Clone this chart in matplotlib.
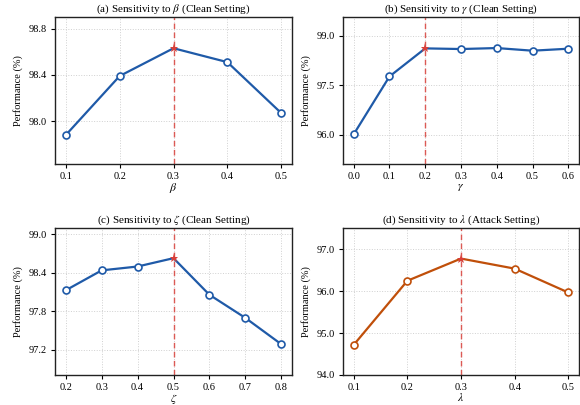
import matplotlib
matplotlib.use("Agg")
import matplotlib.pyplot as plt
from matplotlib.ticker import FormatStrFormatter

plt.rcParams["font.family"] = ["Liberation Serif", "DejaVu Serif"]
plt.rcParams["mathtext.fontset"] = "stix"
plt.rcParams["font.size"] = 7.5

# Sensitivity data
beta_vals = [0.1, 0.2, 0.3, 0.4, 0.5]
beta_perf = [97.88, 98.39, 98.63, 98.51, 98.07]

gamma_vals = [0.0, 0.1, 0.2, 0.3, 0.4, 0.5, 0.6]
gamma_perf = [96.02, 97.77, 98.62, 98.60, 98.63, 98.55, 98.61]

zeta_vals = [0.2, 0.3, 0.4, 0.5, 0.6, 0.7, 0.8]
zeta_perf = [98.13, 98.44, 98.50, 98.63, 98.06, 97.70, 97.29]

lambda_vals = [0.1, 0.2, 0.3, 0.4, 0.5]
lambda_perf = [94.72, 96.25, 96.78, 96.54, 95.97]

titles = [
    r"(a) Sensitivity to $\beta$ (Clean Setting)",
    r"(b) Sensitivity to $\gamma$ (Clean Setting)",
    r"(c) Sensitivity to $\zeta$ (Clean Setting)",
    r"(d) Sensitivity to $\lambda$ (Attack Setting)",
]
xlabels = [r"$\beta$", r"$\gamma$", r"$\zeta$", r"$\lambda$"]
best_x = [0.3, 0.2, 0.5, 0.3]
yticks = [
    [98.0, 98.4, 98.8],
    [96.0, 97.5, 99.0],
    [97.2, 97.8, 98.4, 99.0],
    [94.0, 95.0, 96.0, 97.0],
]
ylims = [(97.63, 98.90), (95.12, 99.57), (96.81, 99.10), (94.0, 97.51)]

BLUE = "#1f5aa8"
ORANGE = "#c04f0a"
RED = "#d9403a"

series = [
    (beta_vals, beta_perf, BLUE),
    (gamma_vals, gamma_perf, BLUE),
    (zeta_vals, zeta_perf, BLUE),
    (lambda_vals, lambda_perf, ORANGE),
]

W, H = 580, 405
fig = plt.figure(figsize=(W / 100, H / 100), dpi=100)

boxes = [
    (55, 292, 17, 164),
    (343, 579, 17, 164),
    (55, 292, 228, 375),
    (343, 579, 228, 375),
]

for i, ((x, y, color), (l, r, t, b)) in enumerate(zip(series, boxes)):
    ax = fig.add_axes([l / W, 1 - b / H, (r - l) / W, (b - t) / H])
    ax.grid(True, linestyle=":", color="#d0d0d0", linewidth=0.7)
    ax.set_axisbelow(True)
    bx = best_x[i]
    bi = x.index(bx)
    by = y[bi]
    others = [k for k in range(len(x)) if k != bi]
    ax.plot(x, y, color=color, linewidth=1.6, marker="o", markersize=5,
            markerfacecolor="white", markeredgecolor=color,
            markeredgewidth=1.2, markevery=others, zorder=3)
    ax.axvline(bx, color=RED, linestyle=(0, (4, 2.5)), linewidth=1.0,
               alpha=0.85, zorder=2)
    ax.plot([bx], [by], marker="*", color=RED, markersize=6.5,
            markeredgewidth=0, zorder=4)
    ax.set_xticks(x)
    ax.xaxis.set_major_formatter(FormatStrFormatter("%.1f"))
    ax.set_yticks(yticks[i])
    ax.yaxis.set_major_formatter(FormatStrFormatter("%.1f"))
    ax.set_ylim(*ylims[i])
    ax.set_title(titles[i], fontsize=8, pad=4)
    ax.set_xlabel(xlabels[i], fontsize=8.5, labelpad=0)
    ax.set_ylabel("Performance (%)", fontsize=7.5, labelpad=4)
    ax.tick_params(axis="both", direction="out", length=3, width=0.8,
                   labelsize=7.5, pad=3)
    for s in ax.spines.values():
        s.set_linewidth(1.0)
        s.set_color("#222222")

fig.savefig("out.png", dpi=100)
